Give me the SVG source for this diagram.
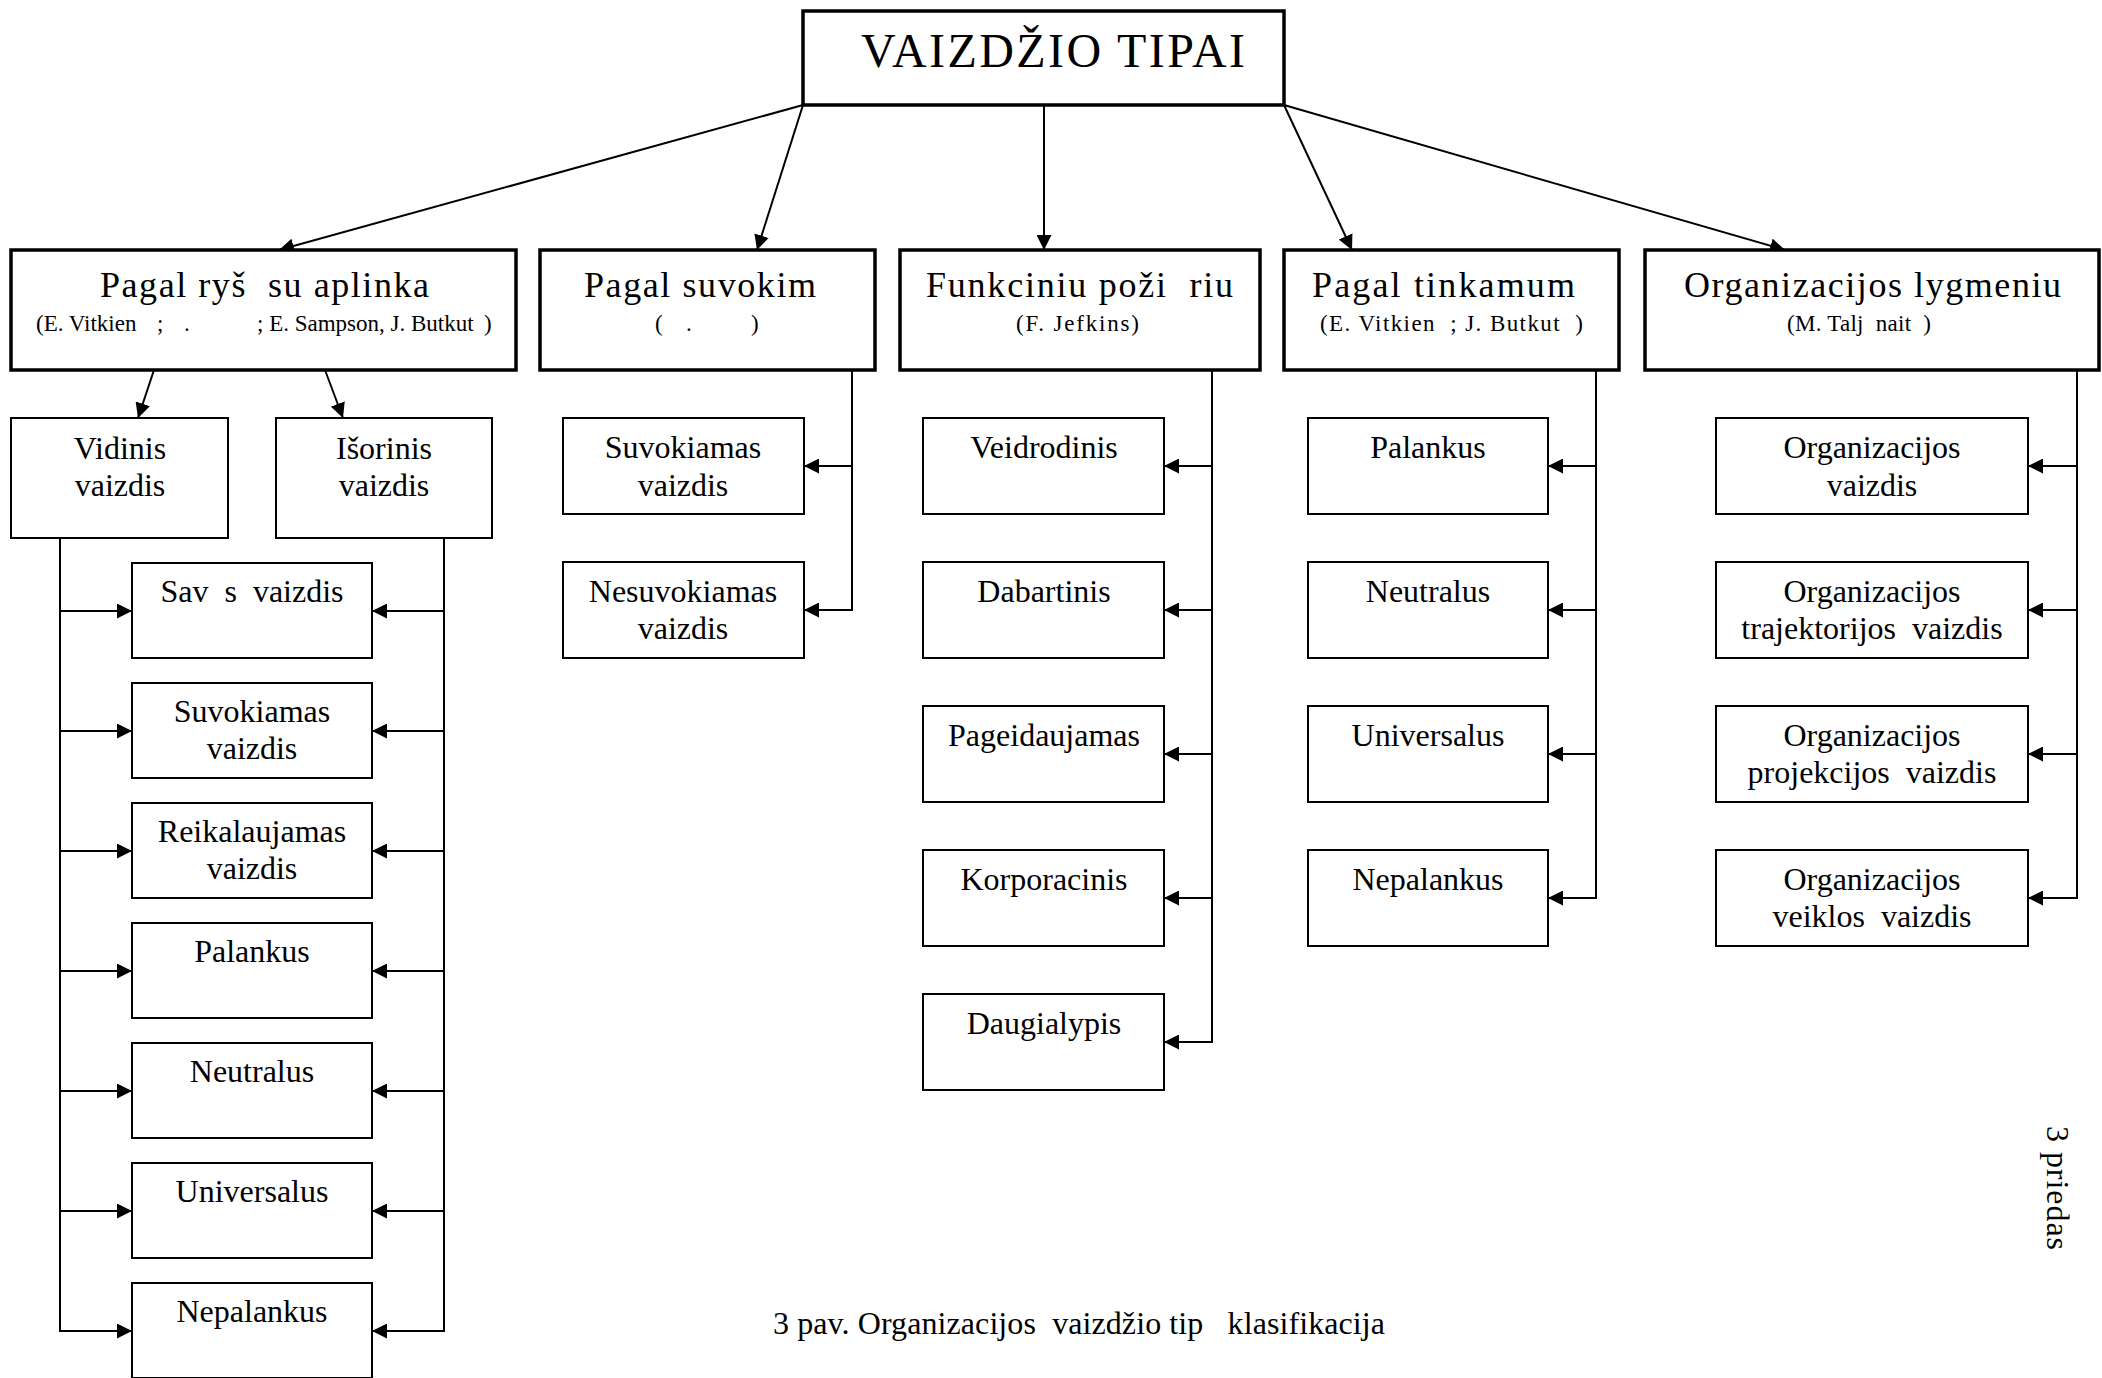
<svg xmlns="http://www.w3.org/2000/svg" width="2102" height="1378" viewBox="0 0 2102 1378" xml:space="preserve">
<style>
  .box{fill:#fff;stroke:#000;stroke-width:2}
  .hbox{fill:#fff;stroke:#000;stroke-width:3.5}
  text{font-family:"Liberation Serif","Times New Roman",serif;fill:#000;white-space:pre}
  .leaf{font-size:32px;text-anchor:middle}
  .title{font-size:36px}
  .sub{font-size:23px}
  .head{font-size:48px}
  .conn{fill:none;stroke:#000;stroke-width:2}
</style>
<defs>
  <marker id="ah" markerWidth="15" markerHeight="15" refX="15" refY="7.5" orient="auto" markerUnits="userSpaceOnUse">
    <path d="M0,0L15,7.5L0,15z" fill="#000"/>
  </marker>
</defs>

<g id="connectors" class="conn" marker-end="url(#ah)">
  <!-- root to the five classification criteria -->
  <line x1="803" y1="105" x2="279" y2="250"/>
  <line x1="803" y1="105" x2="757" y2="250"/>
  <line x1="1044" y1="105" x2="1044" y2="250"/>
  <line x1="1284" y1="105" x2="1352" y2="250"/>
  <line x1="1284" y1="105" x2="1785" y2="250"/>
  <!-- environment criterion to inner / outer image -->
  <line x1="154" y1="370" x2="138" y2="418"/>
  <line x1="325" y1="370" x2="343" y2="418"/>
  <!-- inner image trunk -->
  <path d="M60,538V1331H132"/>
  <path d="M60,611H132"/><path d="M60,731H132"/><path d="M60,851H132"/>
  <path d="M60,971H132"/><path d="M60,1091H132"/><path d="M60,1211H132"/>
  <!-- outer image trunk -->
  <path d="M444,538V1331H372"/>
  <path d="M444,611H372"/><path d="M444,731H372"/><path d="M444,851H372"/>
  <path d="M444,971H372"/><path d="M444,1091H372"/><path d="M444,1211H372"/>
  <!-- perception -->
  <path d="M852,370V610H804"/>
  <path d="M852,466H804"/>
  <!-- functional -->
  <path d="M1212,370V1042H1164"/>
  <path d="M1212,466H1164"/><path d="M1212,610H1164"/><path d="M1212,754H1164"/><path d="M1212,898H1164"/>
  <!-- suitability -->
  <path d="M1596,370V898H1548"/>
  <path d="M1596,466H1548"/><path d="M1596,610H1548"/><path d="M1596,754H1548"/>
  <!-- organisation level -->
  <path d="M2077,370V898H2028"/>
  <path d="M2077,466H2028"/><path d="M2077,610H2028"/><path d="M2077,754H2028"/>
</g>

<g id="root">
  <rect class="hbox" x="803" y="11" width="481" height="94"/>
  <text class="head" x="861" y="67" textLength="384" lengthAdjust="spacing">VAIZDŽIO TIPAI</text>
</g>

<g id="crit-aplinka">
  <rect class="hbox" x="11" y="250" width="505" height="120"/>
  <text class="title" x="100" y="297" textLength="329" lengthAdjust="spacing">Pagal ryš  su aplinka</text>
  <text class="sub" y="331"><tspan x="36">(E. Vitkien</tspan><tspan x="157">;</tspan><tspan x="184">.</tspan><tspan x="257">; E. Sampson, J. Butkut</tspan><tspan x="484">)</tspan></text>
</g>
<g id="crit-suvokimas">
  <rect class="hbox" x="540" y="250" width="335" height="120"/>
  <text class="title" x="584" y="297" textLength="232" lengthAdjust="spacing">Pagal suvokim</text>
  <text class="sub" y="331"><tspan x="655">(</tspan><tspan x="686">.</tspan><tspan x="751">)</tspan></text>
</g>
<g id="crit-funkcinis">
  <rect class="hbox" x="900" y="250" width="360" height="120"/>
  <text class="title" x="926" y="297" textLength="307" lengthAdjust="spacing">Funkciniu poži  riu</text>
  <text class="sub" x="1016" y="331" textLength="123" lengthAdjust="spacing">(F. Jefkins)</text>
</g>
<g id="crit-tinkamumas">
  <rect class="hbox" x="1284" y="250" width="335" height="120"/>
  <text class="title" x="1312" y="297" textLength="263" lengthAdjust="spacing">Pagal tinkamum</text>
  <text class="sub" x="1320" y="331" textLength="263" lengthAdjust="spacing">(E. Vitkien  ; J. Butkut  )</text>
</g>
<g id="crit-lygmuo">
  <rect class="hbox" x="1645" y="250" width="454" height="120"/>
  <text class="title" x="1684" y="297" textLength="377" lengthAdjust="spacing">Organizacijos lygmeniu</text>
  <text class="sub" x="1787" y="331" textLength="144" lengthAdjust="spacing">(M. Talj  nait  )</text>
</g>

<g id="vidinis">
  <rect class="box" x="11" y="418" width="217" height="120"/>
  <text class="leaf" x="120" y="459">Vidinis</text>
  <text class="leaf" x="120" y="496">vaizdis</text>
</g>
<g id="isorinis">
  <rect class="box" x="276" y="418" width="216" height="120"/>
  <text class="leaf" x="384" y="459">Išorinis</text>
  <text class="leaf" x="384" y="496">vaizdis</text>
</g>

<!-- shared subtypes of inner and outer image -->
<g id="l-saves">
  <rect class="box" x="132" y="563" width="240" height="95"/>
  <text class="leaf" x="252" y="602">Sav  s  vaizdis</text>
</g>
<g id="l-suvokiamas">
  <rect class="box" x="132" y="683" width="240" height="95"/>
  <text class="leaf" x="252" y="722">Suvokiamas</text>
  <text class="leaf" x="252" y="759">vaizdis</text>
</g>
<g id="l-reikalaujamas">
  <rect class="box" x="132" y="803" width="240" height="95"/>
  <text class="leaf" x="252" y="842">Reikalaujamas</text>
  <text class="leaf" x="252" y="879">vaizdis</text>
</g>
<g id="l-palankus">
  <rect class="box" x="132" y="923" width="240" height="95"/>
  <text class="leaf" x="252" y="962">Palankus</text>
</g>
<g id="l-neutralus">
  <rect class="box" x="132" y="1043" width="240" height="95"/>
  <text class="leaf" x="252" y="1082">Neutralus</text>
</g>
<g id="l-universalus">
  <rect class="box" x="132" y="1163" width="240" height="95"/>
  <text class="leaf" x="252" y="1202">Universalus</text>
</g>
<g id="l-nepalankus">
  <rect class="box" x="132" y="1283" width="240" height="95"/>
  <text class="leaf" x="252" y="1322">Nepalankus</text>
</g>

<!-- perception -->
<g id="s-suvokiamas">
  <rect class="box" x="563" y="418" width="241" height="96"/>
  <text class="leaf" x="683" y="458">Suvokiamas</text>
  <text class="leaf" x="683" y="496">vaizdis</text>
</g>
<g id="s-nesuvokiamas">
  <rect class="box" x="563" y="562" width="241" height="96"/>
  <text class="leaf" x="683" y="602">Nesuvokiamas</text>
  <text class="leaf" x="683" y="639">vaizdis</text>
</g>

<!-- functional -->
<g id="f-veidrodinis">
  <rect class="box" x="923" y="418" width="241" height="96"/>
  <text class="leaf" x="1044" y="458">Veidrodinis</text>
</g>
<g id="f-dabartinis">
  <rect class="box" x="923" y="562" width="241" height="96"/>
  <text class="leaf" x="1044" y="602">Dabartinis</text>
</g>
<g id="f-pageidaujamas">
  <rect class="box" x="923" y="706" width="241" height="96"/>
  <text class="leaf" x="1044" y="746">Pageidaujamas</text>
</g>
<g id="f-korporacinis">
  <rect class="box" x="923" y="850" width="241" height="96"/>
  <text class="leaf" x="1044" y="890">Korporacinis</text>
</g>
<g id="f-daugialypis">
  <rect class="box" x="923" y="994" width="241" height="96"/>
  <text class="leaf" x="1044" y="1034">Daugialypis</text>
</g>

<!-- suitability -->
<g id="t-palankus">
  <rect class="box" x="1308" y="418" width="240" height="96"/>
  <text class="leaf" x="1428" y="458">Palankus</text>
</g>
<g id="t-neutralus">
  <rect class="box" x="1308" y="562" width="240" height="96"/>
  <text class="leaf" x="1428" y="602">Neutralus</text>
</g>
<g id="t-universalus">
  <rect class="box" x="1308" y="706" width="240" height="96"/>
  <text class="leaf" x="1428" y="746">Universalus</text>
</g>
<g id="t-nepalankus">
  <rect class="box" x="1308" y="850" width="240" height="96"/>
  <text class="leaf" x="1428" y="890">Nepalankus</text>
</g>

<!-- organisation level -->
<g id="o-organizacijos">
  <rect class="box" x="1716" y="418" width="312" height="96"/>
  <text class="leaf" x="1872" y="458">Organizacijos</text>
  <text class="leaf" x="1872" y="496">vaizdis</text>
</g>
<g id="o-trajektorijos">
  <rect class="box" x="1716" y="562" width="312" height="96"/>
  <text class="leaf" x="1872" y="602">Organizacijos</text>
  <text class="leaf" x="1872" y="639">trajektorijos  vaizdis</text>
</g>
<g id="o-projekcijos">
  <rect class="box" x="1716" y="706" width="312" height="96"/>
  <text class="leaf" x="1872" y="746">Organizacijos</text>
  <text class="leaf" x="1872" y="783">projekcijos  vaizdis</text>
</g>
<g id="o-veiklos">
  <rect class="box" x="1716" y="850" width="312" height="96"/>
  <text class="leaf" x="1872" y="890">Organizacijos</text>
  <text class="leaf" x="1872" y="927">veiklos  vaizdis</text>
</g>

<text x="773" y="1334" font-size="32" textLength="612" lengthAdjust="spacing">3 pav. Organizacijos  vaizdžio tip   klasifikacija</text>
<text transform="translate(2047,1126) rotate(90)" font-size="32" textLength="124" lengthAdjust="spacing">3 priedas</text>
</svg>
